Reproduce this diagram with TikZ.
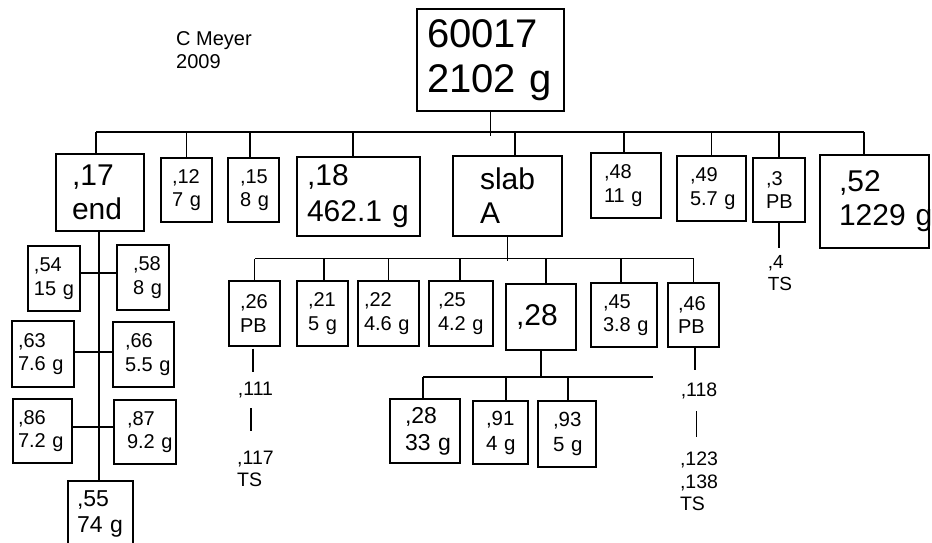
\documentclass[tikz,border=0pt]{standalone}
\usepackage{fontspec}
\setmainfont{Liberation Sans}
\begin{document}
\begin{tikzpicture}[x=1pt, y=-1pt,
    box/.style={draw, line width=1.4pt, inner ysep=0pt, align=left},
    sm/.style={font=\fontsize{20}{23.5}\selectfont},
    md/.style={font=\fontsize{23}{26}\selectfont},
    lg/.style={font=\fontsize{30}{34}\selectfont},
    lbl/.style={inner sep=0pt, align=left, font=\fontsize{19.5}{22.5}\selectfont},
    wire/.style={line width=1.4pt}
]
\useasboundingbox (0,0) rectangle (932,543);

% Author note
\node[lbl, font=\fontsize{20}{23}\selectfont] (author) at (214,50) {C Meyer\\2009};

% Main sample
\node[box, font=\fontsize{40}{45}\selectfont, inner xsep=10pt, text width=127pt, minimum height=102pt] (main) at (490.5,60) {60017\\2102~g};

% First split
\node[box, lg, inner xsep=16pt, text width=56pt, minimum height=77pt] (p17) at (100,192.5) {,17\\end};
\node[box, sm, inner xsep=11pt, text width=29pt, minimum height=64pt] (p12) at (186.5,190) {,12\\7~g};
\node[box, sm, inner xsep=12pt, text width=27pt, minimum height=64pt] (p15) at (253.5,190) {,15\\8~g};
\node[box, lg, font=\fontsize{30}{36}\selectfont, inner xsep=10pt, text width=103pt, minimum height=79pt] (p18) at (358.5,196.5) {,18\\462.1~g};
\node[box, lg, inner xsep=27pt, text width=55pt, minimum height=80pt] (slab) at (507.5,196) {slab\\A};
\node[box, sm, inner xsep=13pt, text width=44pt, minimum height=65pt] (p48) at (626,185.5) {,48\\11~g};
\node[box, sm, inner xsep=13pt, text width=43pt, minimum height=65pt] (p49) at (711.5,188.5) {,49\\5.7~g};
\node[box, sm, inner xsep=13pt, text width=26pt, minimum height=64pt] (p3) at (779,190) {,3\\PB};
\node[box, lg, inner xsep=19pt, text width=71pt, minimum height=93pt] (p52) at (874.5,201.5) {,52\\1229~g};

% Pieces of ,17
\node[box, sm, inner xsep=6pt, text width=40pt, minimum height=65pt] (p54) at (54,278.5) {,54\\15~g};
\node[box, sm, inner xsep=16pt, text width=20pt, minimum height=65pt] (p58) at (143,277.5) {,58\\8~g};
\node[box, sm, inner xsep=6pt, text width=50pt, minimum height=66pt] (p63) at (43,354) {,63\\7.6~g};
\node[box, sm, inner xsep=12pt, text width=37pt, minimum height=65pt] (p66) at (143.5,354.5) {,66\\5.5~g};
\node[box, sm, inner xsep=5pt, text width=49pt, minimum height=64pt] (p86) at (42.5,431) {,86\\7.2~g};
\node[box, sm, inner xsep=13pt, text width=36pt, minimum height=64pt] (p87) at (145,432) {,87\\9.2~g};
\node[box, md, inner xsep=9pt, text width=47pt, minimum height=66pt] (p55) at (100.5,514) {,55\\74~g};

% Pieces of slab A
\node[box, sm, inner xsep=11pt, text width=29pt, minimum height=65pt] (p26) at (254.5,313.5) {,26\\PB};
\node[box, sm, inner xsep=11pt, text width=29pt, minimum height=65pt] (p21) at (322.5,313.5) {,21\\5~g};
\node[box, sm, inner xsep=6pt, text width=49pt, minimum height=65pt] (p22) at (388.5,313.5) {,22\\4.6~g};
\node[box, sm, inner xsep=9pt, text width=46pt, minimum height=65pt] (p25) at (461,313.5) {,25\\4.2~g};
\node[box, lg, inner xsep=10pt, text width=50pt, minimum height=66pt] (p28) at (541,317) {,28};
\node[box, sm, inner xsep=12pt, text width=42pt, minimum height=64pt] (p45) at (624,315) {,45\\3.8~g};
\node[box, sm, inner xsep=10pt, text width=31pt, minimum height=64pt] (p46) at (693.5,315) {,46\\PB};

% Pieces of ,28
\node[box, md, font=\fontsize{23}{27}\selectfont, inner xsep=15pt, text width=40pt, minimum height=64pt] (p28b) at (425,431) {,28\\33~g};
\node[box, font=\fontsize{20.5}{25}\selectfont, inner xsep=13pt, text width=29pt, minimum height=63pt] (p91) at (500.5,432.5) {,91\\4~g};
\node[box, font=\fontsize{20.5}{25}\selectfont, inner xsep=15pt, text width=28pt, minimum height=66pt] (p93) at (567,434) {,93\\5~g};

% Sub-numbers
\node[lbl, font=\fontsize{19}{22}\selectfont] (p4) at (780,273.5) {,4\\TS};
\node[lbl] (p111) at (255.5,390) {,111};
\node[lbl] (p117) at (255.5,468.7) {,117\\TS};
\node[lbl] (p118) at (699,391) {,118};
\node[lbl] (p123) at (699,481.7) {,123\\,138\\TS};

% Buses
\coordinate (bus1) at (0,132);
\coordinate (bus2) at (0,258.5);
\coordinate (bus3) at (0,377);
\coordinate (bus3end) at (653,377);

% Main split
\draw[wire] (main.south) -- ([yshift=-4pt]main.south |- bus1);
\draw[wire] ([xshift=-4pt]p17.north |- bus1) -- ([xshift=-10.5pt]p52.north |- bus1);
\draw[wire] ([xshift=-4pt]p17.north) -- ([xshift=-4pt]p17.north |- bus1);
\draw[wire] (p12.north) -- (p12.north |- bus1);
\draw[wire] ([xshift=-3.5pt]p15.north) -- ([xshift=-3.5pt]p15.north |- bus1);
\draw[wire] ([xshift=-5.5pt]p18.north) -- ([xshift=-5.5pt]p18.north |- bus1);
\draw[wire] ([xshift=7.5pt]slab.north) -- ([xshift=7.5pt]slab.north |- bus1);
\draw[wire] ([xshift=-2pt]p48.north) -- ([xshift=-2pt]p48.north |- bus1);
\draw[wire] (p49.north) -- (p49.north |- bus1);
\draw[wire] (p3.north) -- (p3.north |- bus1);
\draw[wire] ([xshift=-10.5pt]p52.north) -- ([xshift=-10.5pt]p52.north |- bus1);

% ,17 column
\draw[wire] ([xshift=-1pt]p17.south) -- ([xshift=-1pt]p17.south |- p55.north);
\draw[wire] ([yshift=5.5pt]p54.east) -- ([yshift=5.5pt]p54.east -| p58.west);
\draw[wire] ([yshift=2pt]p63.east) -- ([yshift=2pt]p63.east -| p66.west);
\draw[wire] ([yshift=4pt]p86.east) -- ([yshift=4pt]p86.east -| p87.west);

% slab A split
\draw[wire] (slab.south) -- ([yshift=-2.5pt]slab.south |- bus2);
\draw[wire] (p26.north |- bus2) -- (p46.north |- bus2);
\draw[wire] (p26.north) -- (p26.north |- bus2);
\draw[wire] ([xshift=1.5pt]p21.north) -- ([xshift=1.5pt]p21.north |- bus2);
\draw[wire] (p22.north) -- (p22.north |- bus2);
\draw[wire] ([xshift=-1pt]p25.north) -- ([xshift=-1pt]p25.north |- bus2);
\draw[wire] ([xshift=5pt]p28.north) -- ([xshift=5pt]p28.north |- bus2);
\draw[wire] ([xshift=-3pt]p45.north) -- ([xshift=-3pt]p45.north |- bus2);
\draw[wire] (p46.north) -- (p46.north |- bus2);

% ,28 split
\draw[wire] (p28.south) -- (p28.south |- bus3);
\draw[wire] ([xshift=-2pt]p28b.north |- bus3) -- (bus3end);
\draw[wire] ([xshift=-2pt]p28b.north) -- ([xshift=-2pt]p28b.north |- bus3);
\draw[wire] ([xshift=5.5pt]p91.north) -- ([xshift=5.5pt]p91.north |- bus3);
\draw[wire] ([xshift=1pt]p93.north) -- ([xshift=1pt]p93.north |- bus3);

% Sub-number links
\draw[wire, shorten >=8pt] (p3.south) -- (p3.south |- p4.north);
\draw[wire, shorten <=2pt, shorten >=10pt] ([xshift=-1.5pt]p26.south) -- ([xshift=-1.5pt]p26.south |- p111.north);
\draw[wire, shorten <=10pt, shorten >=19pt] ([xshift=-4.5pt]p111.south) -- ([xshift=-4.5pt]p111.south |- p117.north);
\draw[wire, shorten >=13pt] ([xshift=1.5pt]p46.south) -- ([xshift=1.5pt]p46.south |- p118.north);
\draw[wire, shorten <=12pt, shorten >=15pt] ([xshift=-2.5pt]p118.south) -- ([xshift=-2.5pt]p118.south |- p123.north);
\end{tikzpicture}
\end{document}
